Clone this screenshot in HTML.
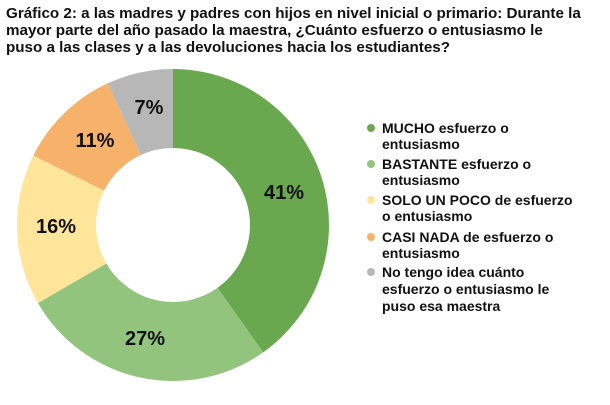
<!DOCTYPE html>
<html><head><meta charset="utf-8"><style>
body{margin:0;width:610px;height:405px;background:#fff;overflow:hidden;font-family:"Liberation Sans",Arial,sans-serif;}
.t{position:absolute;left:6px;top:5px;font-weight:bold;font-size:15.2px;line-height:17px;color:#111;white-space:nowrap;}
svg{position:absolute;left:0;top:0}
</style></head><body>
<div class="t">Gráfico 2: a las madres y padres con hijos en nivel inicial o primario: Durante la<br>mayor parte del año pasado la maestra, ¿Cuánto esfuerzo o entusiasmo le<br>puso a las clases y a las devoluciones hacia los estudiantes?</div>
<svg width="610" height="405" xmlns="http://www.w3.org/2000/svg">
<g id="d"></g>
<g font-family="Liberation Sans, Arial, sans-serif" font-weight="bold" font-size="20" fill="#111" text-anchor="middle">
<text x="284" y="199">41%</text>
<text x="145" y="345">27%</text>
<text x="56" y="233">16%</text>
<text x="95" y="147">11%</text>
<text x="149" y="114">7%</text>
</g>
<g font-family="Liberation Sans, Arial, sans-serif" font-weight="bold" font-size="14" fill="#111">
<circle cx="371" cy="128" r="4" fill="#6aa84f"/>
<text x="382" y="133">MUCHO esfuerzo o</text><text x="382" y="149">entusiasmo</text>
<circle cx="371" cy="164" r="4" fill="#93c47d"/>
<text x="382" y="169">BASTANTE esfuerzo o</text><text x="382" y="185">entusiasmo</text>
<circle cx="371" cy="200" r="4" fill="#ffe599"/>
<text x="382" y="205">SOLO UN POCO de esfuerzo</text><text x="382" y="221">o entusiasmo</text>
<circle cx="371" cy="237" r="4" fill="#f6b26b"/>
<text x="382" y="242">CASI NADA de esfuerzo o</text><text x="382" y="258">entusiasmo</text>
<circle cx="371" cy="272" r="4" fill="#b7b7b7"/>
<text x="382" y="277">No tengo idea cuánto</text><text x="382" y="294">esfuerzo o entusiasmo le</text><text x="382" y="311">puso esa maestra</text>
</g>
</svg>
<script>
var cx=173,cy=225,R=156,r=77;
var v=[41,27,16,11,7],c=["#6aa84f","#93c47d","#ffe599","#f6b26b","#b7b7b7"];
var tot=102,a=0,s="";
function p(rad,ang){return [cx+rad*Math.sin(ang),cy-rad*Math.cos(ang)];}
for(var i=0;i<5;i++){var b=a+v[i]/tot*2*Math.PI;var l=(b-a)>Math.PI?1:0;
var p1=p(R,a),p2=p(R,b),p3=p(r,b),p4=p(r,a);
s+='<path fill="'+c[i]+'" d="M'+p1+' A'+R+' '+R+' 0 '+l+' 1 '+p2+' L'+p3+' A'+r+' '+r+' 0 '+l+' 0 '+p4+'Z"/>';a=b;}
document.getElementById("d").innerHTML=s;
</script>
</body></html>
